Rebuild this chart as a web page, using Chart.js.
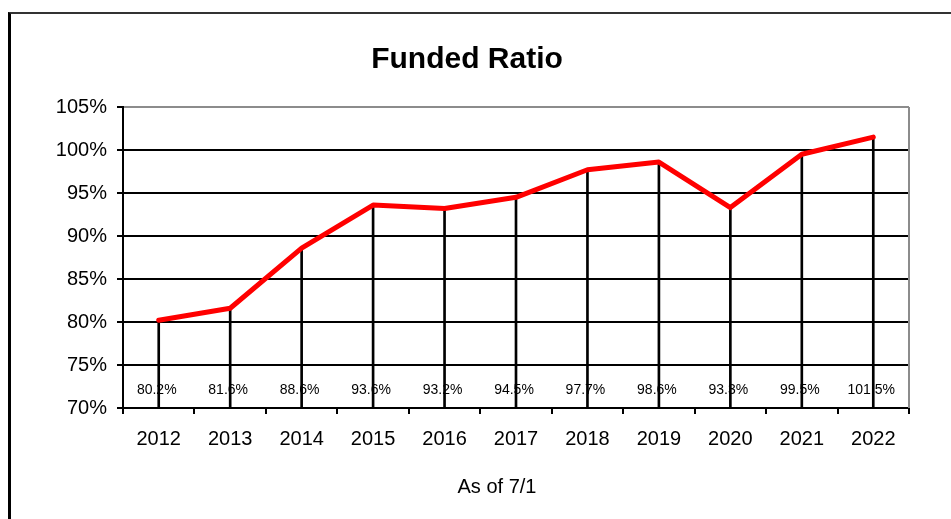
<!DOCTYPE html>
<html>
<head>
<meta charset="utf-8">
<script src="https://cdn.jsdelivr.net/npm/chart.js@4/dist/chart.umd.min.js"></script>
<style>
  body { margin: 0; background: #fff; overflow: hidden; }
  #frame { position: absolute; left: 8px; top: 12px; width: 1000px; height: 1000px;
           border-left: 3px solid #000; border-top: 2px solid #333; pointer-events: none; }
  #funded_ratio_graph { position: absolute; left: 0; top: 0; }
</style>
</head>
<body>
<canvas id="funded_ratio_graph" width="951" height="519"></canvas>
<div id="frame"></div>
<script>
const years = ["2012", "2013", "2014", "2015", "2016", "2017", "2018", "2019", "2020", "2021", "2022"];
const fundedRatio = [80.2, 81.6, 88.6, 93.6, 93.2, 94.5, 97.7, 98.6, 93.3, 99.5, 101.5];
const yTicks = [70, 75, 80, 85, 90, 95, 100, 105];
const chartTitle = "Funded Ratio";
const xTitle = "As of 7/1";

const FONT = "'Liberation Sans', Arial, sans-serif";

document.addEventListener("DOMContentLoaded", () => {
    const ctx = document.getElementById("funded_ratio_graph").getContext("2d");

    // タイトル・ラベル・右枠を描く
    const extras = {
        id: "extras",
        afterDatasetsDraw(chart) {
            const c = chart.ctx;
            const area = chart.chartArea;
            const y = chart.scales.y;
            const meta = chart.getDatasetMeta(1);
            c.save();
            // 値ラベル
            c.fillStyle = "#000";
            c.font = "14px " + FONT;
            c.textAlign = "center";
            c.textBaseline = "middle";
            meta.data.forEach((pt, i) => {
                c.fillText(fundedRatio[i].toFixed(1) + "%", pt.x - 2, y.getPixelForValue(72.1));
            });
            // 右枠
            c.strokeStyle = "#8c8c8c";
            c.lineWidth = 2;
            c.beginPath();
            c.moveTo(area.right, area.top);
            c.lineTo(area.right, area.bottom);
            c.stroke();
            c.restore();
        },
        afterDraw(chart) {
            const c = chart.ctx;
            c.save();
            c.fillStyle = "#000";
            c.textAlign = "center";
            c.textBaseline = "middle";
            c.font = "bold 30px " + FONT;
            c.fillText(chartTitle, 467, 60);
            c.font = "20px " + FONT;
            c.fillText(xTitle, 497, 487);
            c.restore();
        }
    };

    new Chart(ctx, {
        data: {
            labels: years,
            datasets: [
                {
                    // ドロップライン
                    type: "bar",
                    data: fundedRatio,
                    backgroundColor: "#000",
                    barThickness: 2,
                    order: 2,
                },
                {
                    type: "line",
                    label: chartTitle,
                    data: fundedRatio,
                    borderColor: "#ff0000",
                    borderWidth: 5,
                    borderCapStyle: "round",
                    borderJoinStyle: "round",
                    pointRadius: 0,
                    tension: 0,
                    order: 1,
                },
            ],
        },
        options: {
            responsive: false,
            maintainAspectRatio: false,
            animation: false,
            layout: { padding: { top: 107, left: 0, right: 42, bottom: 0 } },
            plugins: {
                legend: { display: false },
                title: { display: false },
                tooltip: { enabled: false },
            },
            scales: {
                x: {
                    type: "category",
                    offset: true,
                    grid: { offset: true, drawOnChartArea: false, drawTicks: true, tickLength: 6, color: "#000", lineWidth: 2 },
                    border: { color: "#000", width: 2 },
                    ticks: { color: "#000", font: { family: FONT, size: 20 }, padding: 13, maxRotation: 0 },
                    afterFit: (s) => { s.height = 111; },
                },
                y: {
                    min: 70,
                    max: 105,
                    afterBuildTicks: (s) => { s.ticks = yTicks.map((v) => ({ value: v })); },
                    grid: {
                        color: (c) => (c.tick && c.tick.value === 105 ? "#8c8c8c" : "#000"),
                        tickColor: "#000",
                        lineWidth: 2,
                        tickLength: 6,
                    },
                    border: { color: "#000", width: 2 },
                    ticks: {
                        color: "#000",
                        font: { family: FONT, size: 20 },
                        padding: 10,
                        callback: (v) => v + "%",
                    },
                    afterFit: (s) => { s.width = 123; },
                },
            },
        },
        plugins: [extras],
    });
});
</script>
</body>
</html>
